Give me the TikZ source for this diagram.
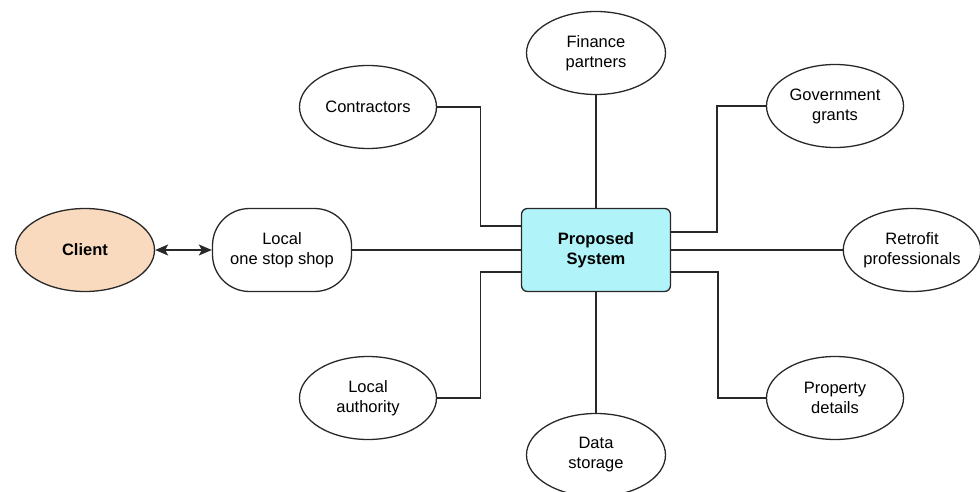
\documentclass[tikz,border=0pt]{standalone}
\usepackage{fontspec}
\setmainfont{Liberation Sans}
\usetikzlibrary{shapes.geometric,arrows.meta}
\definecolor{clientfill}{RGB}{250,218,190}
\definecolor{sysfill}{RGB}{176,244,250}
\definecolor{linegray}{RGB}{40,40,40}
\tikzset{
  x=1pt, y=-1pt,
  every node/.style={font=\fontsize{16.5}{20}\selectfont, align=center, inner sep=0pt, line width=1.3pt, draw=linegray},
  actor/.style={ellipse, minimum width=137pt, minimum height=83pt},
  clientnode/.style={actor, minimum width=139pt, fill=clientfill, font=\fontsize{16.5}{20}\selectfont\bfseries},
  shopnode/.style={rectangle, rounded corners=37pt, minimum width=139pt, minimum height=83pt},
  sysnode/.style={rectangle, rounded corners=6pt, minimum width=149pt, minimum height=83pt, fill=sysfill, font=\fontsize{16.5}{20}\selectfont\bfseries},
  link/.style={line width=1.3pt, draw=linegray},
  biarrow/.style={link, {Stealth[length=13pt,width=11pt,inset=3pt]}-{Stealth[length=13pt,width=11pt,inset=3pt]}}
}
\begin{document}
\begin{tikzpicture}
\useasboundingbox (0,0) rectangle (980,492);

% central system and the hub's partners
\node[sysnode] (sys) at (596,250) {Proposed\\System};
\node[clientnode] (client) at (85,250) {Client};
\node[shopnode] (shop) at (282,250) {Local\\one stop shop};
\node[actor] (contr) at (368,107) {Contractors};
\node[actor] (auth) at (368,398) {Local\\authority};
\node[actor, minimum width=139pt] (fin) at (596,53) {Finance\\partners};
\node[actor, minimum width=139pt] (data) at (596,455) {Data\\storage};
\node[actor] (gov) at (835,106) {Government\\grants};
\node[actor, minimum width=135pt] (retro) at (912,250) {Retrofit\\professionals};
\node[actor] (prop) at (835,398) {Property\\details};

% connectors
\draw[biarrow] (client.east) -- (shop.west);
\draw[link] (shop.east) -- (sys.west);
\draw[link] (contr.east) -- ++(43,0) |- ([yshift=24pt]sys.west);
\draw[link] (auth.east) -- ++(43,0) |- ([yshift=-22pt]sys.west);
\draw[link] (fin.south) -- (sys.north);
\draw[link] (sys.south) -- (data.north);
\draw[link] (gov.west) -- ++(-49,0) |- ([yshift=18pt]sys.east);
\draw[link] (sys.east) -- (retro.west);
\draw[link] (prop.west) -- ++(-48,0) |- ([yshift=-22pt]sys.east);
\end{tikzpicture}
\end{document}
